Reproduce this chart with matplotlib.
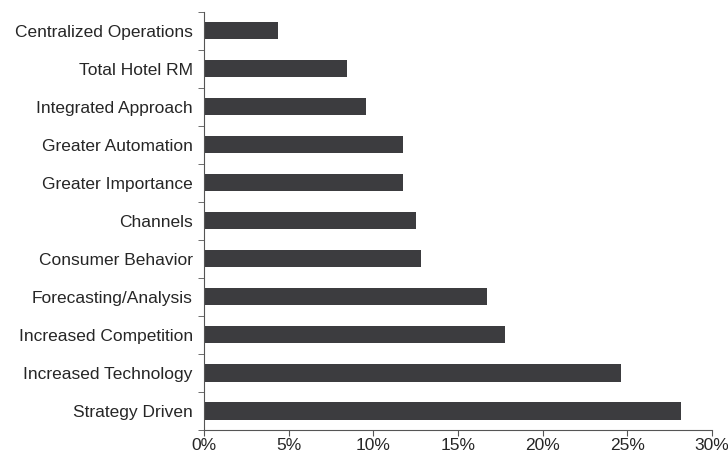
import matplotlib.pyplot as plt
import numpy as np

categories = ["Centralized Operations", "Total Hotel RM", "Integrated Approach",
              "Greater Automation", "Greater Importance", "Channels",
              "Consumer Behavior", "Forecasting/Analysis", "Increased Competition",
              "Increased Technology", "Strategy Driven"]
values = [4.4, 8.45, 9.6, 11.75, 11.75, 12.55, 12.85, 16.7, 17.8, 24.6, 28.2]
xticks = [0, 5, 10, 15, 20, 25, 30]

plt.rcParams['font.family'] = ['Liberation Sans', 'DejaVu Sans']

fig = plt.figure(figsize=(7.28, 4.55), dpi=100)
ax = fig.add_axes([0.28, 0.055, 0.698, 0.919])

y = np.arange(len(categories))
ax.barh(y, values, height=0.45, color='#3c3c3f')

ax.set_ylim(len(categories) - 0.5, -0.5)
ax.set_xlim(0, 30)
ax.set_yticks(y)
ax.set_yticklabels(categories, fontsize=12.5, color='#262626')
ax.tick_params(axis='y', which='major', length=0, pad=8)
ax.set_yticks(np.arange(-0.5, len(categories), 1), minor=True)
ax.tick_params(axis='y', which='minor', length=4, color='#555555')

ax.set_xticks(xticks)
ax.set_xticklabels([f"{t}%" for t in xticks], fontsize=12.5, color='#262626')
ax.tick_params(axis='x', length=4, color='#555555', pad=2)

for s in ['top', 'right']:
    ax.spines[s].set_visible(False)
for s in ['left', 'bottom']:
    ax.spines[s].set_color('#555555')

fig.savefig('out.png', dpi=100)
